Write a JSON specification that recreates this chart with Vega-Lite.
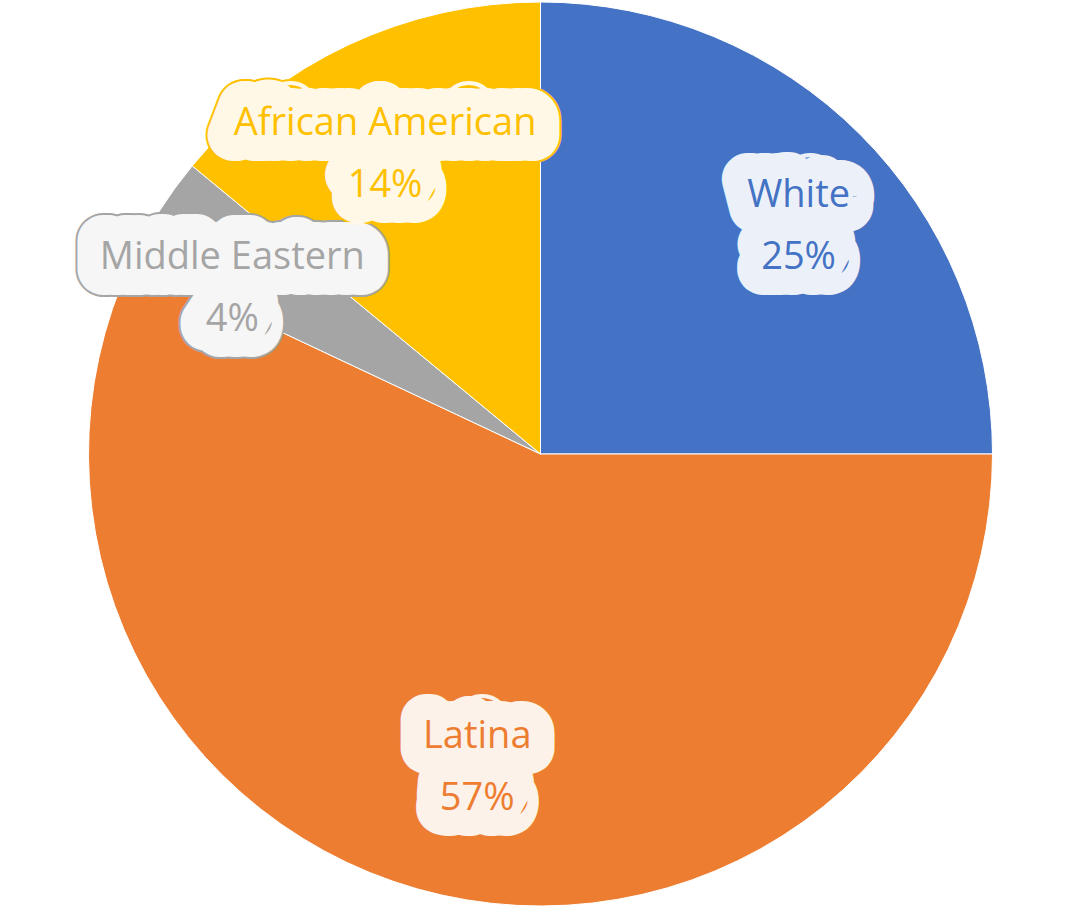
{
  "$schema": "https://vega.github.io/schema/vega-lite/v6.json",
  "width": 1081,
  "height": 908,
  "autosize": {"type": "fit", "contains": "padding"},
  "padding": 0,
  "background": "white",
  "view": {"stroke": null},
  "data": {
    "values": [
      {"idx": 1, "group": "White", "pct": 25, "label": "White\n25%"},
      {"idx": 2, "group": "Latina", "pct": 57, "label": "Latina\n57%"},
      {"idx": 3, "group": "Middle Eastern", "pct": 4, "label": "Middle Eastern\n4%"},
      {"idx": 4, "group": "African American", "pct": 14, "label": "African American\n14%"}
    ]
  },
  "encoding": {
    "theta": {"field": "pct", "type": "quantitative", "stack": true},
    "order": {"field": "idx", "type": "quantitative"},
    "color": {
      "field": "group",
      "type": "nominal",
      "scale": {
        "domain": ["White", "Latina", "Middle Eastern", "African American"],
        "range": ["#4472C4", "#ED7D31", "#A5A5A5", "#FFC000"]
      },
      "legend": null
    }
  },
  "layer": [
    {
      "mark": {"type": "arc", "outerRadius": 452, "stroke": "#ffffff", "strokeWidth": 1}
    },
    {
      "mark": {"type": "text", "font": "Open Sans", "fontSize": 38, "lineBreak": "\n", "lineHeight": 62, "align": "center", "baseline": "middle", "strokeWidth": 56, "strokeJoin": "round", "strokeCap": "round"},
      "encoding": {
        "text": {"field": "label", "type": "nominal"},
        "radius": {"field": "pct", "type": "quantitative", "scale": {"type": "linear", "zero": false, "domain": [25, 57], "range": [365, 290], "clamp": true}},
        "stroke": {
          "field": "group",
          "type": "nominal",
          "scale": {
            "domain": ["White", "Latina", "Middle Eastern", "African American"],
            "range": ["#4472C4", "#ED7D31", "#A5A5A5", "#FFC000"]
          },
          "legend": null
        }
      }
    },
    {
      "mark": {"type": "text", "font": "Open Sans", "fontSize": 38, "lineBreak": "\n", "lineHeight": 62, "align": "center", "baseline": "middle", "stroke": "#ffffff", "strokeWidth": 52, "strokeJoin": "round", "strokeCap": "round"},
      "encoding": {
        "text": {"field": "label", "type": "nominal"},
        "radius": {"field": "pct", "type": "quantitative", "scale": {"type": "linear", "zero": false, "domain": [25, 57], "range": [365, 290], "clamp": true}},
        "color": {"value": "#ffffff"},
        "opacity": {"value": 0.9}
      }
    },
    {
      "mark": {"type": "text", "font": "Open Sans", "fontSize": 38, "lineBreak": "\n", "lineHeight": 62, "align": "center", "baseline": "middle"},
      "encoding": {
        "text": {"field": "label", "type": "nominal"},
        "radius": {"field": "pct", "type": "quantitative", "scale": {"type": "linear", "zero": false, "domain": [25, 57], "range": [365, 290], "clamp": true}}
      }
    }
  ]
}
